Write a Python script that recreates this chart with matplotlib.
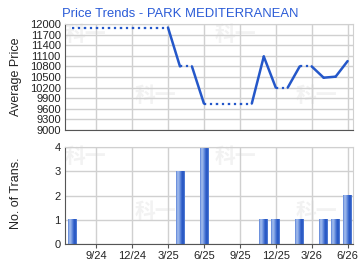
import matplotlib
matplotlib.use("Agg")
import matplotlib.pyplot as plt
import numpy as np
from matplotlib.colors import LinearSegmentedColormap

plt.rcParams['font.family'] = ['Liberation Sans', 'DejaVu Sans']

months = ["7/24","8/24","9/24","10/24","11/24","12/24","1/25","2/25","3/25","4/25","5/25","6/25",
          "7/25","8/25","9/25","10/25","11/25","12/25","1/26","2/26","3/26","4/26","5/26","6/26"]
data_months = ["7/24","4/25","6/25","11/25","12/25","2/26","4/26","5/26","6/26"]
prices = [11900, 10800, 9750, 11080, 10200, 10800, 10480, 10510, 10950]
counts = [1, 3, 4, 1, 1, 1, 1, 1, 2]
tick_labels = ["9/24","12/24","3/25","6/25","9/25","12/25","3/26","6/26"]
title = "Price Trends - PARK MEDITERRANEAN"

x_all = np.arange(len(months))
idx = [months.index(m) for m in data_months]
# carry forward last known price for months without data
series = []
last = None
has = []
for i, m in enumerate(months):
    if m in data_months:
        last = prices[data_months.index(m)]
        has.append(True)
    else:
        has.append(False)
    series.append(last)

fig = plt.figure(figsize=(3.6, 2.7), dpi=100)
ax1 = fig.add_axes([65/360, 1-130/270, 288/360, 106/270])
ax2 = fig.add_axes([65/360, 1-244/270, 288/360, 97/270])

line_color = '#2457C9'
grid_color = '#D0D0D0'
text_color = '#222222'

wm_pos = [(0.0, 0.9), (0.52, 0.9), (0.243, 0.33), (0.80, 0.33)]
for ax in (ax1, ax2):
    ax.set_xlim(-0.6, 23.45)
    ax.set_xticks([months.index(t) for t in tick_labels])
    ax.grid(True, color=grid_color, linewidth=1)
    ax.set_axisbelow(True)
    for s in ('top', 'right'):
        ax.spines[s].set_color(grid_color)
    for s in ('left', 'bottom'):
        ax.spines[s].set_color('#555555')
    ax.tick_params(axis='y', length=0, labelsize=8, colors=text_color, pad=3)
    ax.tick_params(axis='x', length=3, colors='#555555', labelcolor=text_color, labelsize=8, pad=2)
    for (wx, wy) in wm_pos:
        ax.text(wx, wy, "科一", transform=ax.transAxes, fontsize=15, color='#F2F2F2',
                family=['Noto Sans CJK SC'], fontweight='bold', ha='left', va='center', zorder=0)

ax1.tick_params(axis='x', labelbottom=False, length=0)
ax1.set_ylim(9000, 12000)
ax1.set_yticks(np.arange(9000, 12001, 300))

for i in range(1, len(months)):
    ls = '-' if has[i] else ':'
    ax1.plot([x_all[i-1], x_all[i]], [series[i-1], series[i]], color=line_color,
             linewidth=1.8 if has[i] else 1.6, linestyle=ls, solid_capstyle='round', zorder=3)

ax1.set_ylabel("Average Price", fontsize=9, color=text_color)
ax1.yaxis.set_label_coords(-0.15, 0.5)

ax2.set_ylim(0, 4)
ax2.set_yticks([0, 1, 2, 3, 4])
ax2.set_xticklabels(tick_labels)
ax2.set_ylabel("No. of Trans.", fontsize=9, color=text_color)
ax2.yaxis.set_label_coords(-0.15, 0.52)

cmap = LinearSegmentedColormap.from_list('b', ['#5A82D8', '#A8C0EE', '#7C9FE3', '#3F6CD0', '#1F4FBF', '#5C86DA'])
grad = np.linspace(0, 1, 64).reshape(1, -1)
w = 0.72
bars = ax2.bar(idx, counts, width=w, color='none', edgecolor='none', zorder=2)
for b in bars:
    x0 = b.get_x(); h = b.get_height()
    ax2.imshow(grad, extent=(x0, x0 + w, 0, h), aspect='auto', cmap=cmap, zorder=2,
               interpolation='bilinear')
ax2.set_xlim(-0.6, 23.45)
ax2.set_ylim(0, 4)

fig.text(62/360, 1-8/270, title, color='#2A5BD7', fontsize=9.4, ha='left', va='top')

fig.savefig("out.png", dpi=100)
